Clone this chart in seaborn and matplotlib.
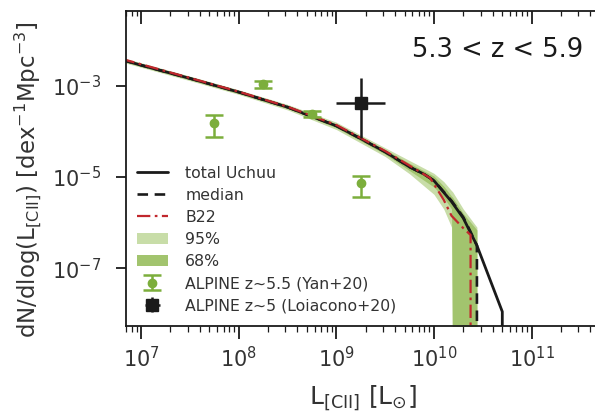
import numpy as np
import pandas as pd
import matplotlib
matplotlib.use("Agg")
import matplotlib.pyplot as plt
import matplotlib.lines as mlines
import seaborn as sns
from matplotlib.patches import Patch
from matplotlib.lines import Line2D

# ---- data (log10 L, log10 phi); ZERO marks an empty bin (below plotted range) ----
ZERO = -9.0
total_logL = [6.8, 7.0, 7.5, 8.0, 8.5, 9.0, 9.25, 9.5, 9.75, 9.9, 10.0, 10.18, 10.3, 10.37, 10.44, 10.7, 10.7]
total_logphi = [-2.43, -2.55, -2.84, -3.14, -3.47, -3.88, -4.16, -4.45, -4.78, -4.94, -5.08, -5.54, -5.9, -6.2, -6.5, -7.95, ZERO]

median_logL = [6.8, 7.0, 7.5, 8.0, 8.5, 9.0, 9.25, 9.5, 9.75, 9.9, 10.0, 10.18, 10.3, 10.37, 10.44, 10.44]
median_logphi = [-2.43, -2.55, -2.84, -3.14, -3.47, -3.88, -4.16, -4.45, -4.78, -4.94, -5.08, -5.52, -5.88, -6.18, -6.5, ZERO]

b22_logL = [6.8, 7.0, 7.5, 8.0, 8.5, 9.0, 9.5, 9.75, 9.96, 10.1, 10.18, 10.3, 10.375, 10.375]
b22_logphi = [-2.41, -2.53, -2.83, -3.13, -3.46, -3.86, -4.43, -4.75, -5.02, -5.5, -5.85, -6.12, -6.27, ZERO]

band_logL = [6.8, 7.5, 8.0, 8.5, 9.0, 9.5, 9.75, 10.0, 10.1, 10.18, 10.19, 10.3, 10.44]
p95_hi = [-2.38, -2.79, -3.09, -3.41, -3.80, -4.36, -4.64, -4.92, -5.1, -5.3, -5.32, -5.7, -6.1]
p95_lo = [-2.48, -2.89, -3.19, -3.53, -3.96, -4.55, -4.93, -5.38, -5.7, -6.1, ZERO, ZERO, ZERO]
p68_hi = [-2.40, -2.81, -3.11, -3.44, -3.84, -4.40, -4.70, -4.98, -5.2, -5.42, -5.44, -5.8, -6.16]
p68_lo = [-2.46, -2.87, -3.17, -3.50, -3.92, -4.50, -4.86, -5.22, -5.45, -5.7, ZERO, ZERO, ZERO]

yan_logL = [7.75, 8.25, 8.75, 9.25]
yan_logphi = [-3.81, -2.97, -3.627, -5.138]
yan_hi = [-3.64, -2.897, -3.554, -4.97]
yan_lo = [-4.117, -3.044, -3.692, -5.43]

loi_logL = [9.25]
loi_logphi = [-3.386]
loi_hi = [-2.838]
loi_lo = [-4.152]
loi_dx = [0.25]


def lin(v):
    return 10.0 ** np.array(v, dtype=float)


sns.set_theme(style="ticks")
plt.rcParams["font.family"] = ["DejaVu Sans"]
plt.rcParams["mathtext.fontset"] = "dejavusans"

fig = plt.figure(figsize=(5.95, 4.11), dpi=100)
ax = fig.add_axes([0.2113, 0.2068, 0.797, 0.7664])
ax.set_xscale("log")
ax.set_yscale("log")

light = "#c8dda8"
dark = "#a2c46e"
gpt = "#7cae3c"
red = "#c1272d"
blk = "#1a1a1a"

bl = lin(band_logL)
ax.fill_between(bl, lin(p95_lo), lin(p95_hi), color=light, lw=0)
ax.fill_between(bl, lin(p68_lo), lin(p68_hi), color=dark, lw=0)

dfT = pd.DataFrame({"L": lin(total_logL), "phi": lin(total_logphi)})
dfM = pd.DataFrame({"L": lin(median_logL), "phi": lin(median_logphi)})
dfB = pd.DataFrame({"L": lin(b22_logL), "phi": lin(b22_logphi)})

sns.lineplot(data=dfT, x="L", y="phi", ax=ax, color=blk, lw=2.0, sort=False, estimator=None)
sns.lineplot(data=dfM, x="L", y="phi", ax=ax, color=blk, lw=1.9, ls=(0, (4, 2.5)), sort=False, estimator=None)
sns.lineplot(data=dfB, x="L", y="phi", ax=ax, color=red, lw=1.6, ls=(0, (6, 2, 1.2, 2)), sort=False, estimator=None)

yx = lin(yan_logL)
yy = lin(yan_logphi)
yerr = [yy - lin(yan_lo), lin(yan_hi) - yy]
eb1 = ax.errorbar(yx, yy, yerr=yerr, fmt="o", color=gpt, ms=6, capsize=6.5, capthick=1.8, elinewidth=1.8)

lx = lin(loi_logL)
ly = lin(loi_logphi)
lyerr = [ly - lin(loi_lo), lin(loi_hi) - ly]
lxerr = [lx - lin(np.array(loi_logL) - np.array(loi_dx)), lin(np.array(loi_logL) + np.array(loi_dx)) - lx]
eb2 = ax.errorbar(lx, ly, yerr=lyerr, xerr=lxerr, fmt="s", color=blk, ms=8.5, elinewidth=1.8, capsize=0)

xlim = (10 ** 6.843, 10 ** 11.70)
ax.set_xlim(*xlim)
ax.set_ylim(10 ** -8.264, 10 ** -1.364)
ax.set_yticks([1e-3, 1e-5, 1e-7])
ax.yaxis.set_minor_locator(matplotlib.ticker.NullLocator())
ax.xaxis.set_major_locator(matplotlib.ticker.LogLocator(base=10, numticks=10))
ax.xaxis.set_minor_locator(matplotlib.ticker.LogLocator(base=10, subs=np.arange(2, 10), numticks=20))

for s in ["left", "top", "bottom"]:
    ax.spines[s].set_visible(True)
    ax.spines[s].set_linewidth(1.3)
    ax.spines[s].set_color(blk)
ax.spines["right"].set_visible(False)

ax.tick_params(axis="x", which="major", direction="out", length=9, width=1.3, labelsize=15, pad=5.5,
               colors=blk, labelcolor="#333333", top=False)
ax.tick_params(axis="x", which="minor", direction="out", length=4, width=0.9, colors=blk, top=False)
ax.tick_params(axis="y", which="major", direction="out", length=7, width=1.3, labelsize=15, pad=11,
               colors=blk, labelcolor="#333333", right=False)

# inward-pointing ticks along the top spine, at the x-axis locator positions
top_tf = ax.get_xaxis_transform()
maj = [v for v in ax.xaxis.get_majorticklocs() if xlim[0] <= v <= xlim[1]]
mnr = [v for v in ax.xaxis.get_minorticklocs() if xlim[0] <= v <= xlim[1]]
ax.vlines(maj, 0.96, 1.0, transform=top_tf, colors=blk, lw=1.3, clip_on=False, zorder=6)
ax.vlines(mnr, 0.983, 1.0, transform=top_tf, colors=blk, lw=0.9, clip_on=False, zorder=6)
ax.set_xlim(*xlim)
ax.set_ylim(10 ** -8.264, 10 ** -1.364)

ax.set_xlabel(r"L$_{\rm [CII]}$ [L$_{\odot}$]", fontsize=18, color="#333333", labelpad=8.5)
ax.set_ylabel(r"dN/dlog(L$_{\rm [CII]}$) [dex$^{-1}$Mpc$^{-3}$]", fontsize=16.5, color="#333333")
ax.yaxis.set_label_coords(-0.172, 0.4635)

ax.text(0.964, 0.877, "5.3 < z < 5.9", transform=ax.transAxes, ha="right", va="center", fontsize=18.5, color=blk)

handles = [
    Line2D([], [], color=blk, lw=2.0),
    Line2D([], [], color=blk, lw=1.9, ls=(0, (4, 2.5))),
    Line2D([], [], color=red, lw=1.6, ls=(0, (6, 2, 1.2, 2))),
    Patch(color=light, lw=0),
    Patch(color=dark, lw=0),
    eb1,
    eb2,
]
labels = ["total Uchuu", "median", "B22", "95%", "68%", "ALPINE z~5.5 (Yan+20)", "ALPINE z~5 (Loiacono+20)"]
leg = ax.legend(handles, labels, loc="lower left", bbox_to_anchor=(0.0, 0.006), frameon=False, fontsize=11.3,
                labelspacing=0.45, handlelength=2.0, handletextpad=1.1, borderaxespad=0.3)
for t in leg.get_texts():
    t.set_color("#333333")

fig.savefig("out.png", dpi=100)
